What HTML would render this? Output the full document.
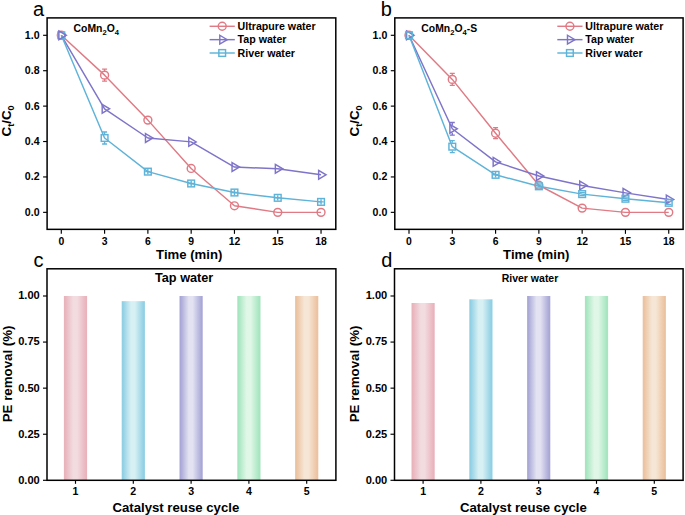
<!DOCTYPE html>
<html><head><meta charset="utf-8"><style>
html,body{margin:0;padding:0;background:#fff;width:685px;height:515px;overflow:hidden}
svg{display:block}
text{font-family:'Liberation Sans',sans-serif;fill:#000}
.b{font-weight:bold}
.r{font-weight:normal}
</style></head><body>
<svg width="685" height="515" viewBox="0 0 685 515">
<rect width="685" height="515" fill="#fff"/>
<defs>
<linearGradient id="g0" x1="0" x2="1" y1="0" y2="0"><stop offset="0" stop-color="#E9B3BC"/><stop offset="0.05" stop-color="#E9B3BC"/><stop offset="0.4" stop-color="#F2DCE0"/><stop offset="0.57" stop-color="#F2DCE0"/><stop offset="0.95" stop-color="#E9B3BC"/><stop offset="1" stop-color="#E9B3BC"/></linearGradient>
<linearGradient id="g1" x1="0" x2="1" y1="0" y2="0"><stop offset="0" stop-color="#90CFE4"/><stop offset="0.05" stop-color="#90CFE4"/><stop offset="0.4" stop-color="#D7F0F4"/><stop offset="0.57" stop-color="#D7F0F4"/><stop offset="0.95" stop-color="#90CFE4"/><stop offset="1" stop-color="#90CFE4"/></linearGradient>
<linearGradient id="g2" x1="0" x2="1" y1="0" y2="0"><stop offset="0" stop-color="#A9A7D7"/><stop offset="0.05" stop-color="#A9A7D7"/><stop offset="0.4" stop-color="#E2E2F2"/><stop offset="0.57" stop-color="#E2E2F2"/><stop offset="0.95" stop-color="#A9A7D7"/><stop offset="1" stop-color="#A9A7D7"/></linearGradient>
<linearGradient id="g3" x1="0" x2="1" y1="0" y2="0"><stop offset="0" stop-color="#A5E5BF"/><stop offset="0.05" stop-color="#A5E5BF"/><stop offset="0.4" stop-color="#E0F7E8"/><stop offset="0.57" stop-color="#E0F7E8"/><stop offset="0.95" stop-color="#A5E5BF"/><stop offset="1" stop-color="#A5E5BF"/></linearGradient>
<linearGradient id="g4" x1="0" x2="1" y1="0" y2="0"><stop offset="0" stop-color="#ECC29F"/><stop offset="0.05" stop-color="#ECC29F"/><stop offset="0.4" stop-color="#F6E6D6"/><stop offset="0.57" stop-color="#F6E6D6"/><stop offset="0.95" stop-color="#ECC29F"/><stop offset="1" stop-color="#ECC29F"/></linearGradient>
</defs>
<text x="33.0" y="15.5" font-size="20" class="r">a</text>
<rect x="47.10" y="17.90" width="288.70" height="211.45" fill="none" stroke="#000" stroke-width="1.5"/>
<line x1="43.10" y1="212.35" x2="47.10" y2="212.35" stroke="#000" stroke-width="1.15"/>
<text x="39.60" y="215.85" font-size="10.6" text-anchor="end" class="b">0.0</text>
<line x1="43.10" y1="176.94" x2="47.10" y2="176.94" stroke="#000" stroke-width="1.15"/>
<text x="39.60" y="180.44" font-size="10.6" text-anchor="end" class="b">0.2</text>
<line x1="43.10" y1="141.53" x2="47.10" y2="141.53" stroke="#000" stroke-width="1.15"/>
<text x="39.60" y="145.03" font-size="10.6" text-anchor="end" class="b">0.4</text>
<line x1="43.10" y1="106.12" x2="47.10" y2="106.12" stroke="#000" stroke-width="1.15"/>
<text x="39.60" y="109.62" font-size="10.6" text-anchor="end" class="b">0.6</text>
<line x1="43.10" y1="70.71" x2="47.10" y2="70.71" stroke="#000" stroke-width="1.15"/>
<text x="39.60" y="74.21" font-size="10.6" text-anchor="end" class="b">0.8</text>
<line x1="43.10" y1="35.30" x2="47.10" y2="35.30" stroke="#000" stroke-width="1.15"/>
<text x="39.60" y="38.80" font-size="10.6" text-anchor="end" class="b">1.0</text>
<line x1="61.30" y1="229.35" x2="61.30" y2="233.85" stroke="#000" stroke-width="1.15"/>
<text x="61.30" y="244.95" font-size="10.4" text-anchor="middle" class="b">0</text>
<line x1="104.59" y1="229.35" x2="104.59" y2="233.85" stroke="#000" stroke-width="1.15"/>
<text x="104.59" y="244.95" font-size="10.4" text-anchor="middle" class="b">3</text>
<line x1="147.88" y1="229.35" x2="147.88" y2="233.85" stroke="#000" stroke-width="1.15"/>
<text x="147.88" y="244.95" font-size="10.4" text-anchor="middle" class="b">6</text>
<line x1="191.17" y1="229.35" x2="191.17" y2="233.85" stroke="#000" stroke-width="1.15"/>
<text x="191.17" y="244.95" font-size="10.4" text-anchor="middle" class="b">9</text>
<line x1="234.46" y1="229.35" x2="234.46" y2="233.85" stroke="#000" stroke-width="1.15"/>
<text x="234.46" y="244.95" font-size="10.4" text-anchor="middle" class="b">12</text>
<line x1="277.75" y1="229.35" x2="277.75" y2="233.85" stroke="#000" stroke-width="1.15"/>
<text x="277.75" y="244.95" font-size="10.4" text-anchor="middle" class="b">15</text>
<line x1="321.04" y1="229.35" x2="321.04" y2="233.85" stroke="#000" stroke-width="1.15"/>
<text x="321.04" y="244.95" font-size="10.4" text-anchor="middle" class="b">18</text>
<text x="156.1" y="259.0" font-size="13.15" class="b">Time (min)</text>
<text transform="translate(11.0,136.5) rotate(-90)" font-size="13.4" class="b">C<tspan font-size="9" dy="3.4">t</tspan><tspan dy="-3.4">/C</tspan><tspan font-size="9" dy="3.4">0</tspan></text>
<polyline points="61.30,35.30 104.59,75.14 147.88,120.11 191.17,168.44 234.46,205.80 277.75,212.35 321.04,212.35" fill="none" stroke="#E07A84" stroke-width="1.45" stroke-linejoin="round"/>
<polyline points="61.30,35.30 104.59,108.78 147.88,137.99 191.17,141.88 234.46,167.03 277.75,168.80 321.04,174.82" fill="none" stroke="#7E74C9" stroke-width="1.45" stroke-linejoin="round"/>
<polyline points="61.30,35.30 104.59,137.99 147.88,171.63 191.17,183.49 234.46,192.52 277.75,197.83 321.04,201.90" fill="none" stroke="#5FB3D8" stroke-width="1.45" stroke-linejoin="round"/>
<circle cx="61.30" cy="35.30" r="3.95" fill="none" stroke="#E07A84" stroke-width="1.45"/>
<rect x="57.95" y="31.95" width="6.7" height="6.7" fill="none" stroke="#5FB3D8" stroke-width="1.45"/>
<path d="M58.90,30.90L66.30,35.30L58.90,39.70Z" fill="none" stroke="#7E74C9" stroke-width="1.45"/>
<path d="M104.59,69.14V71.24M104.59,79.04V81.14M102.09,69.14h5M102.09,81.14h5" stroke="#E07A84" stroke-width="1.3" fill="none"/>
<circle cx="104.59" cy="75.14" r="3.95" fill="none" stroke="#E07A84" stroke-width="1.45"/>
<path d="M102.19,104.38L109.59,108.78L102.19,113.18Z" fill="none" stroke="#7E74C9" stroke-width="1.45"/>
<path d="M104.59,131.99V134.09M104.59,141.89V143.99M102.09,131.99h5M102.09,143.99h5" stroke="#5FB3D8" stroke-width="1.3" fill="none"/>
<rect x="101.24" y="134.64" width="6.7" height="6.7" fill="none" stroke="#5FB3D8" stroke-width="1.45"/>
<circle cx="147.88" cy="120.11" r="3.95" fill="none" stroke="#E07A84" stroke-width="1.45"/>
<path d="M145.48,133.59L152.88,137.99L145.48,142.39Z" fill="none" stroke="#7E74C9" stroke-width="1.45"/>
<rect x="144.53" y="168.28" width="6.7" height="6.7" fill="none" stroke="#5FB3D8" stroke-width="1.45"/>
<path d="M147.88,168.93V174.33M145.18,171.63H150.58" stroke="#5FB3D8" stroke-width="1.4" fill="none"/>
<circle cx="191.17" cy="168.44" r="3.95" fill="none" stroke="#E07A84" stroke-width="1.45"/>
<path d="M188.77,137.48L196.17,141.88L188.77,146.28Z" fill="none" stroke="#7E74C9" stroke-width="1.45"/>
<rect x="187.82" y="180.14" width="6.7" height="6.7" fill="none" stroke="#5FB3D8" stroke-width="1.45"/>
<path d="M191.17,180.79V186.19M188.47,183.49H193.87" stroke="#5FB3D8" stroke-width="1.4" fill="none"/>
<circle cx="234.46" cy="205.80" r="3.95" fill="none" stroke="#E07A84" stroke-width="1.45"/>
<path d="M232.06,162.63L239.46,167.03L232.06,171.43Z" fill="none" stroke="#7E74C9" stroke-width="1.45"/>
<rect x="231.11" y="189.17" width="6.7" height="6.7" fill="none" stroke="#5FB3D8" stroke-width="1.45"/>
<path d="M234.46,189.82V195.22M231.76,192.52H237.16" stroke="#5FB3D8" stroke-width="1.4" fill="none"/>
<circle cx="277.75" cy="212.35" r="3.95" fill="none" stroke="#E07A84" stroke-width="1.45"/>
<path d="M275.35,164.40L282.75,168.80L275.35,173.20Z" fill="none" stroke="#7E74C9" stroke-width="1.45"/>
<rect x="274.40" y="194.48" width="6.7" height="6.7" fill="none" stroke="#5FB3D8" stroke-width="1.45"/>
<path d="M277.75,195.13V200.53M275.05,197.83H280.45" stroke="#5FB3D8" stroke-width="1.4" fill="none"/>
<circle cx="321.04" cy="212.35" r="3.95" fill="none" stroke="#E07A84" stroke-width="1.45"/>
<path d="M318.64,170.42L326.04,174.82L318.64,179.22Z" fill="none" stroke="#7E74C9" stroke-width="1.45"/>
<rect x="317.69" y="198.55" width="6.7" height="6.7" fill="none" stroke="#5FB3D8" stroke-width="1.45"/>
<path d="M321.04,199.20V204.60M318.34,201.90H323.74" stroke="#5FB3D8" stroke-width="1.4" fill="none"/>
<line x1="209.60" y1="26.30" x2="234.80" y2="26.30" stroke="#E07A84" stroke-width="1.45"/>
<circle cx="222.20" cy="26.30" r="3.95" fill="none" stroke="#E07A84" stroke-width="1.45"/>
<text x="237.60" y="30.10" font-size="10.65" class="b">Ultrapure water</text>
<line x1="209.60" y1="39.65" x2="234.80" y2="39.65" stroke="#7E74C9" stroke-width="1.45"/>
<path d="M219.80,35.25L227.20,39.65L219.80,44.05Z" fill="none" stroke="#7E74C9" stroke-width="1.45"/>
<text x="237.60" y="43.45" font-size="10.65" class="b">Tap water</text>
<line x1="209.60" y1="53.00" x2="234.80" y2="53.00" stroke="#5FB3D8" stroke-width="1.45"/>
<rect x="218.85" y="49.65" width="6.7" height="6.7" fill="none" stroke="#5FB3D8" stroke-width="1.45"/>
<text x="237.60" y="56.80" font-size="10.65" class="b">River water</text>
<text x="73.6" y="31.9" font-size="10.4" class="b">CoMn<tspan font-size="7.6" dy="2.8">2</tspan><tspan dy="-2.8">O</tspan><tspan font-size="7.6" dy="2.8">4</tspan></text>
<text x="380.7" y="15.5" font-size="20" class="r">b</text>
<rect x="394.80" y="17.90" width="288.30" height="211.45" fill="none" stroke="#000" stroke-width="1.5"/>
<line x1="390.80" y1="212.35" x2="394.80" y2="212.35" stroke="#000" stroke-width="1.15"/>
<text x="387.30" y="215.85" font-size="10.6" text-anchor="end" class="b">0.0</text>
<line x1="390.80" y1="176.94" x2="394.80" y2="176.94" stroke="#000" stroke-width="1.15"/>
<text x="387.30" y="180.44" font-size="10.6" text-anchor="end" class="b">0.2</text>
<line x1="390.80" y1="141.53" x2="394.80" y2="141.53" stroke="#000" stroke-width="1.15"/>
<text x="387.30" y="145.03" font-size="10.6" text-anchor="end" class="b">0.4</text>
<line x1="390.80" y1="106.12" x2="394.80" y2="106.12" stroke="#000" stroke-width="1.15"/>
<text x="387.30" y="109.62" font-size="10.6" text-anchor="end" class="b">0.6</text>
<line x1="390.80" y1="70.71" x2="394.80" y2="70.71" stroke="#000" stroke-width="1.15"/>
<text x="387.30" y="74.21" font-size="10.6" text-anchor="end" class="b">0.8</text>
<line x1="390.80" y1="35.30" x2="394.80" y2="35.30" stroke="#000" stroke-width="1.15"/>
<text x="387.30" y="38.80" font-size="10.6" text-anchor="end" class="b">1.0</text>
<line x1="409.00" y1="229.35" x2="409.00" y2="233.85" stroke="#000" stroke-width="1.15"/>
<text x="409.00" y="244.95" font-size="10.4" text-anchor="middle" class="b">0</text>
<line x1="452.29" y1="229.35" x2="452.29" y2="233.85" stroke="#000" stroke-width="1.15"/>
<text x="452.29" y="244.95" font-size="10.4" text-anchor="middle" class="b">3</text>
<line x1="495.58" y1="229.35" x2="495.58" y2="233.85" stroke="#000" stroke-width="1.15"/>
<text x="495.58" y="244.95" font-size="10.4" text-anchor="middle" class="b">6</text>
<line x1="538.87" y1="229.35" x2="538.87" y2="233.85" stroke="#000" stroke-width="1.15"/>
<text x="538.87" y="244.95" font-size="10.4" text-anchor="middle" class="b">9</text>
<line x1="582.16" y1="229.35" x2="582.16" y2="233.85" stroke="#000" stroke-width="1.15"/>
<text x="582.16" y="244.95" font-size="10.4" text-anchor="middle" class="b">12</text>
<line x1="625.45" y1="229.35" x2="625.45" y2="233.85" stroke="#000" stroke-width="1.15"/>
<text x="625.45" y="244.95" font-size="10.4" text-anchor="middle" class="b">15</text>
<line x1="668.74" y1="229.35" x2="668.74" y2="233.85" stroke="#000" stroke-width="1.15"/>
<text x="668.74" y="244.95" font-size="10.4" text-anchor="middle" class="b">18</text>
<text x="503.1" y="259.0" font-size="13.15" class="b">Time (min)</text>
<text transform="translate(358.7,136.5) rotate(-90)" font-size="13.4" class="b">C<tspan font-size="9" dy="3.4">t</tspan><tspan dy="-3.4">/C</tspan><tspan font-size="9" dy="3.4">0</tspan></text>
<polyline points="409.00,35.30 452.29,79.39 495.58,133.21 538.87,185.26 582.16,208.10 625.45,212.35 668.74,212.35" fill="none" stroke="#E07A84" stroke-width="1.45" stroke-linejoin="round"/>
<polyline points="409.00,35.30 452.29,128.78 495.58,161.89 538.87,176.05 582.16,185.44 625.45,192.87 668.74,199.43" fill="none" stroke="#7E74C9" stroke-width="1.45" stroke-linejoin="round"/>
<polyline points="409.00,35.30 452.29,146.66 495.58,174.82 538.87,186.32 582.16,194.11 625.45,198.72 668.74,202.79" fill="none" stroke="#5FB3D8" stroke-width="1.45" stroke-linejoin="round"/>
<circle cx="409.00" cy="35.30" r="3.95" fill="none" stroke="#E07A84" stroke-width="1.45"/>
<path d="M406.60,30.90L414.00,35.30L406.60,39.70Z" fill="none" stroke="#7E74C9" stroke-width="1.45"/>
<rect x="405.65" y="31.95" width="6.7" height="6.7" fill="none" stroke="#5FB3D8" stroke-width="1.45"/>
<path d="M452.29,73.39V75.49M452.29,83.29V85.39M449.79,73.39h5M449.79,85.39h5" stroke="#E07A84" stroke-width="1.3" fill="none"/>
<circle cx="452.29" cy="79.39" r="3.95" fill="none" stroke="#E07A84" stroke-width="1.45"/>
<path d="M452.29,122.48V124.88M452.29,132.68V135.08M449.79,122.48h5M449.79,135.08h5" stroke="#7E74C9" stroke-width="1.3" fill="none"/>
<path d="M449.89,124.38L457.29,128.78L449.89,133.18Z" fill="none" stroke="#7E74C9" stroke-width="1.45"/>
<path d="M452.29,140.66V142.76M452.29,150.56V152.66M449.79,140.66h5M449.79,152.66h5" stroke="#5FB3D8" stroke-width="1.3" fill="none"/>
<rect x="448.94" y="143.31" width="6.7" height="6.7" fill="none" stroke="#5FB3D8" stroke-width="1.45"/>
<path d="M495.58,127.71V129.31M495.58,137.11V138.71M493.08,127.71h5M493.08,138.71h5" stroke="#E07A84" stroke-width="1.3" fill="none"/>
<circle cx="495.58" cy="133.21" r="3.95" fill="none" stroke="#E07A84" stroke-width="1.45"/>
<path d="M493.18,157.49L500.58,161.89L493.18,166.29Z" fill="none" stroke="#7E74C9" stroke-width="1.45"/>
<rect x="492.23" y="171.47" width="6.7" height="6.7" fill="none" stroke="#5FB3D8" stroke-width="1.45"/>
<path d="M495.58,172.12V177.52M492.88,174.82H498.28" stroke="#5FB3D8" stroke-width="1.4" fill="none"/>
<circle cx="538.87" cy="185.26" r="3.95" fill="none" stroke="#E07A84" stroke-width="1.45"/>
<path d="M536.47,171.65L543.87,176.05L536.47,180.45Z" fill="none" stroke="#7E74C9" stroke-width="1.45"/>
<rect x="535.52" y="182.97" width="6.7" height="6.7" fill="none" stroke="#5FB3D8" stroke-width="1.45"/>
<path d="M536.17,184.82H541.57M536.17,187.92H541.57" stroke="#5FB3D8" stroke-width="1.2" fill="none"/>
<circle cx="582.16" cy="208.10" r="3.95" fill="none" stroke="#E07A84" stroke-width="1.45"/>
<path d="M579.76,181.04L587.16,185.44L579.76,189.84Z" fill="none" stroke="#7E74C9" stroke-width="1.45"/>
<rect x="578.81" y="190.76" width="6.7" height="6.7" fill="none" stroke="#5FB3D8" stroke-width="1.45"/>
<path d="M579.46,192.61H584.86M579.46,195.71H584.86" stroke="#5FB3D8" stroke-width="1.2" fill="none"/>
<circle cx="625.45" cy="212.35" r="3.95" fill="none" stroke="#E07A84" stroke-width="1.45"/>
<path d="M623.05,188.47L630.45,192.87L623.05,197.27Z" fill="none" stroke="#7E74C9" stroke-width="1.45"/>
<rect x="622.10" y="195.37" width="6.7" height="6.7" fill="none" stroke="#5FB3D8" stroke-width="1.45"/>
<path d="M622.75,197.22H628.15M622.75,200.32H628.15" stroke="#5FB3D8" stroke-width="1.2" fill="none"/>
<circle cx="668.74" cy="212.35" r="3.95" fill="none" stroke="#E07A84" stroke-width="1.45"/>
<path d="M666.34,195.03L673.74,199.43L666.34,203.83Z" fill="none" stroke="#7E74C9" stroke-width="1.45"/>
<rect x="665.39" y="199.44" width="6.7" height="6.7" fill="none" stroke="#5FB3D8" stroke-width="1.45"/>
<path d="M666.04,201.29H671.44M666.04,204.39H671.44" stroke="#5FB3D8" stroke-width="1.2" fill="none"/>
<line x1="557.30" y1="26.30" x2="582.50" y2="26.30" stroke="#E07A84" stroke-width="1.45"/>
<circle cx="569.90" cy="26.30" r="3.95" fill="none" stroke="#E07A84" stroke-width="1.45"/>
<text x="585.30" y="30.10" font-size="10.65" class="b">Ultrapure water</text>
<line x1="557.30" y1="39.65" x2="582.50" y2="39.65" stroke="#7E74C9" stroke-width="1.45"/>
<path d="M567.50,35.25L574.90,39.65L567.50,44.05Z" fill="none" stroke="#7E74C9" stroke-width="1.45"/>
<text x="585.30" y="43.45" font-size="10.65" class="b">Tap water</text>
<line x1="557.30" y1="53.00" x2="582.50" y2="53.00" stroke="#5FB3D8" stroke-width="1.45"/>
<rect x="566.55" y="49.65" width="6.7" height="6.7" fill="none" stroke="#5FB3D8" stroke-width="1.45"/>
<text x="585.30" y="56.80" font-size="10.65" class="b">River water</text>
<text x="421.3" y="31.9" font-size="10.4" class="b">CoMn<tspan font-size="7.6" dy="2.8">2</tspan><tspan dy="-2.8">O</tspan><tspan font-size="7.6" dy="2.8">4</tspan><tspan dy="-2.8">-S</tspan></text>
<text x="33.6" y="267.0" font-size="20" class="r">c</text>
<rect x="63.90" y="296.00" width="23.2" height="184.30" fill="url(#g0)"/>
<rect x="121.70" y="301.16" width="23.2" height="179.14" fill="url(#g1)"/>
<rect x="179.50" y="296.00" width="23.2" height="184.30" fill="url(#g2)"/>
<rect x="237.30" y="296.00" width="23.2" height="184.30" fill="url(#g3)"/>
<rect x="295.10" y="296.00" width="23.2" height="184.30" fill="url(#g4)"/>
<rect x="47.00" y="268.80" width="288.90" height="211.50" fill="none" stroke="#000" stroke-width="1.5"/>
<line x1="43.00" y1="480.30" x2="47.00" y2="480.30" stroke="#000" stroke-width="1.15"/>
<text x="39.80" y="483.70" font-size="11.1" text-anchor="end" class="b">0.00</text>
<line x1="43.00" y1="434.23" x2="47.00" y2="434.23" stroke="#000" stroke-width="1.15"/>
<text x="39.80" y="437.62" font-size="11.1" text-anchor="end" class="b">0.25</text>
<line x1="43.00" y1="388.15" x2="47.00" y2="388.15" stroke="#000" stroke-width="1.15"/>
<text x="39.80" y="391.55" font-size="11.1" text-anchor="end" class="b">0.50</text>
<line x1="43.00" y1="342.07" x2="47.00" y2="342.07" stroke="#000" stroke-width="1.15"/>
<text x="39.80" y="345.47" font-size="11.1" text-anchor="end" class="b">0.75</text>
<line x1="43.00" y1="296.00" x2="47.00" y2="296.00" stroke="#000" stroke-width="1.15"/>
<text x="39.80" y="299.40" font-size="11.1" text-anchor="end" class="b">1.00</text>
<line x1="75.50" y1="480.30" x2="75.50" y2="483.80" stroke="#000" stroke-width="1.15"/>
<text x="75.50" y="495.10" font-size="10.6" text-anchor="middle" class="b">1</text>
<line x1="133.30" y1="480.30" x2="133.30" y2="483.80" stroke="#000" stroke-width="1.15"/>
<text x="133.30" y="495.10" font-size="10.6" text-anchor="middle" class="b">2</text>
<line x1="191.10" y1="480.30" x2="191.10" y2="483.80" stroke="#000" stroke-width="1.15"/>
<text x="191.10" y="495.10" font-size="10.6" text-anchor="middle" class="b">3</text>
<line x1="248.90" y1="480.30" x2="248.90" y2="483.80" stroke="#000" stroke-width="1.15"/>
<text x="248.90" y="495.10" font-size="10.6" text-anchor="middle" class="b">4</text>
<line x1="306.70" y1="480.30" x2="306.70" y2="483.80" stroke="#000" stroke-width="1.15"/>
<text x="306.70" y="495.10" font-size="10.6" text-anchor="middle" class="b">5</text>
<text x="112.4" y="511.5" font-size="13.2" class="b">Catalyst reuse cycle</text>
<text transform="translate(12.4,422.3) rotate(-90)" font-size="13.3" class="b">PE removal (%)</text>
<text x="155.0" y="281.8" font-size="12.7" class="b">Tap water</text>
<text x="381.2" y="267.0" font-size="20" class="r">d</text>
<rect x="411.50" y="303.00" width="23.2" height="177.30" fill="url(#g0)"/>
<rect x="469.30" y="299.32" width="23.2" height="180.98" fill="url(#g1)"/>
<rect x="527.10" y="296.00" width="23.2" height="184.30" fill="url(#g2)"/>
<rect x="584.90" y="296.00" width="23.2" height="184.30" fill="url(#g3)"/>
<rect x="642.70" y="296.00" width="23.2" height="184.30" fill="url(#g4)"/>
<rect x="394.50" y="268.80" width="288.60" height="211.50" fill="none" stroke="#000" stroke-width="1.5"/>
<line x1="390.50" y1="480.30" x2="394.50" y2="480.30" stroke="#000" stroke-width="1.15"/>
<text x="387.30" y="483.70" font-size="11.1" text-anchor="end" class="b">0.00</text>
<line x1="390.50" y1="434.23" x2="394.50" y2="434.23" stroke="#000" stroke-width="1.15"/>
<text x="387.30" y="437.62" font-size="11.1" text-anchor="end" class="b">0.25</text>
<line x1="390.50" y1="388.15" x2="394.50" y2="388.15" stroke="#000" stroke-width="1.15"/>
<text x="387.30" y="391.55" font-size="11.1" text-anchor="end" class="b">0.50</text>
<line x1="390.50" y1="342.07" x2="394.50" y2="342.07" stroke="#000" stroke-width="1.15"/>
<text x="387.30" y="345.47" font-size="11.1" text-anchor="end" class="b">0.75</text>
<line x1="390.50" y1="296.00" x2="394.50" y2="296.00" stroke="#000" stroke-width="1.15"/>
<text x="387.30" y="299.40" font-size="11.1" text-anchor="end" class="b">1.00</text>
<line x1="423.10" y1="480.30" x2="423.10" y2="483.80" stroke="#000" stroke-width="1.15"/>
<text x="423.10" y="495.10" font-size="10.6" text-anchor="middle" class="b">1</text>
<line x1="480.90" y1="480.30" x2="480.90" y2="483.80" stroke="#000" stroke-width="1.15"/>
<text x="480.90" y="495.10" font-size="10.6" text-anchor="middle" class="b">2</text>
<line x1="538.70" y1="480.30" x2="538.70" y2="483.80" stroke="#000" stroke-width="1.15"/>
<text x="538.70" y="495.10" font-size="10.6" text-anchor="middle" class="b">3</text>
<line x1="596.50" y1="480.30" x2="596.50" y2="483.80" stroke="#000" stroke-width="1.15"/>
<text x="596.50" y="495.10" font-size="10.6" text-anchor="middle" class="b">4</text>
<line x1="654.30" y1="480.30" x2="654.30" y2="483.80" stroke="#000" stroke-width="1.15"/>
<text x="654.30" y="495.10" font-size="10.6" text-anchor="middle" class="b">5</text>
<text x="460.0" y="511.5" font-size="13.2" class="b">Catalyst reuse cycle</text>
<text transform="translate(359.4,422.3) rotate(-90)" font-size="13.3" class="b">PE removal (%)</text>
<text x="501.7" y="281.8" font-size="10.5" class="b">River water</text>
</svg>
</body></html>
